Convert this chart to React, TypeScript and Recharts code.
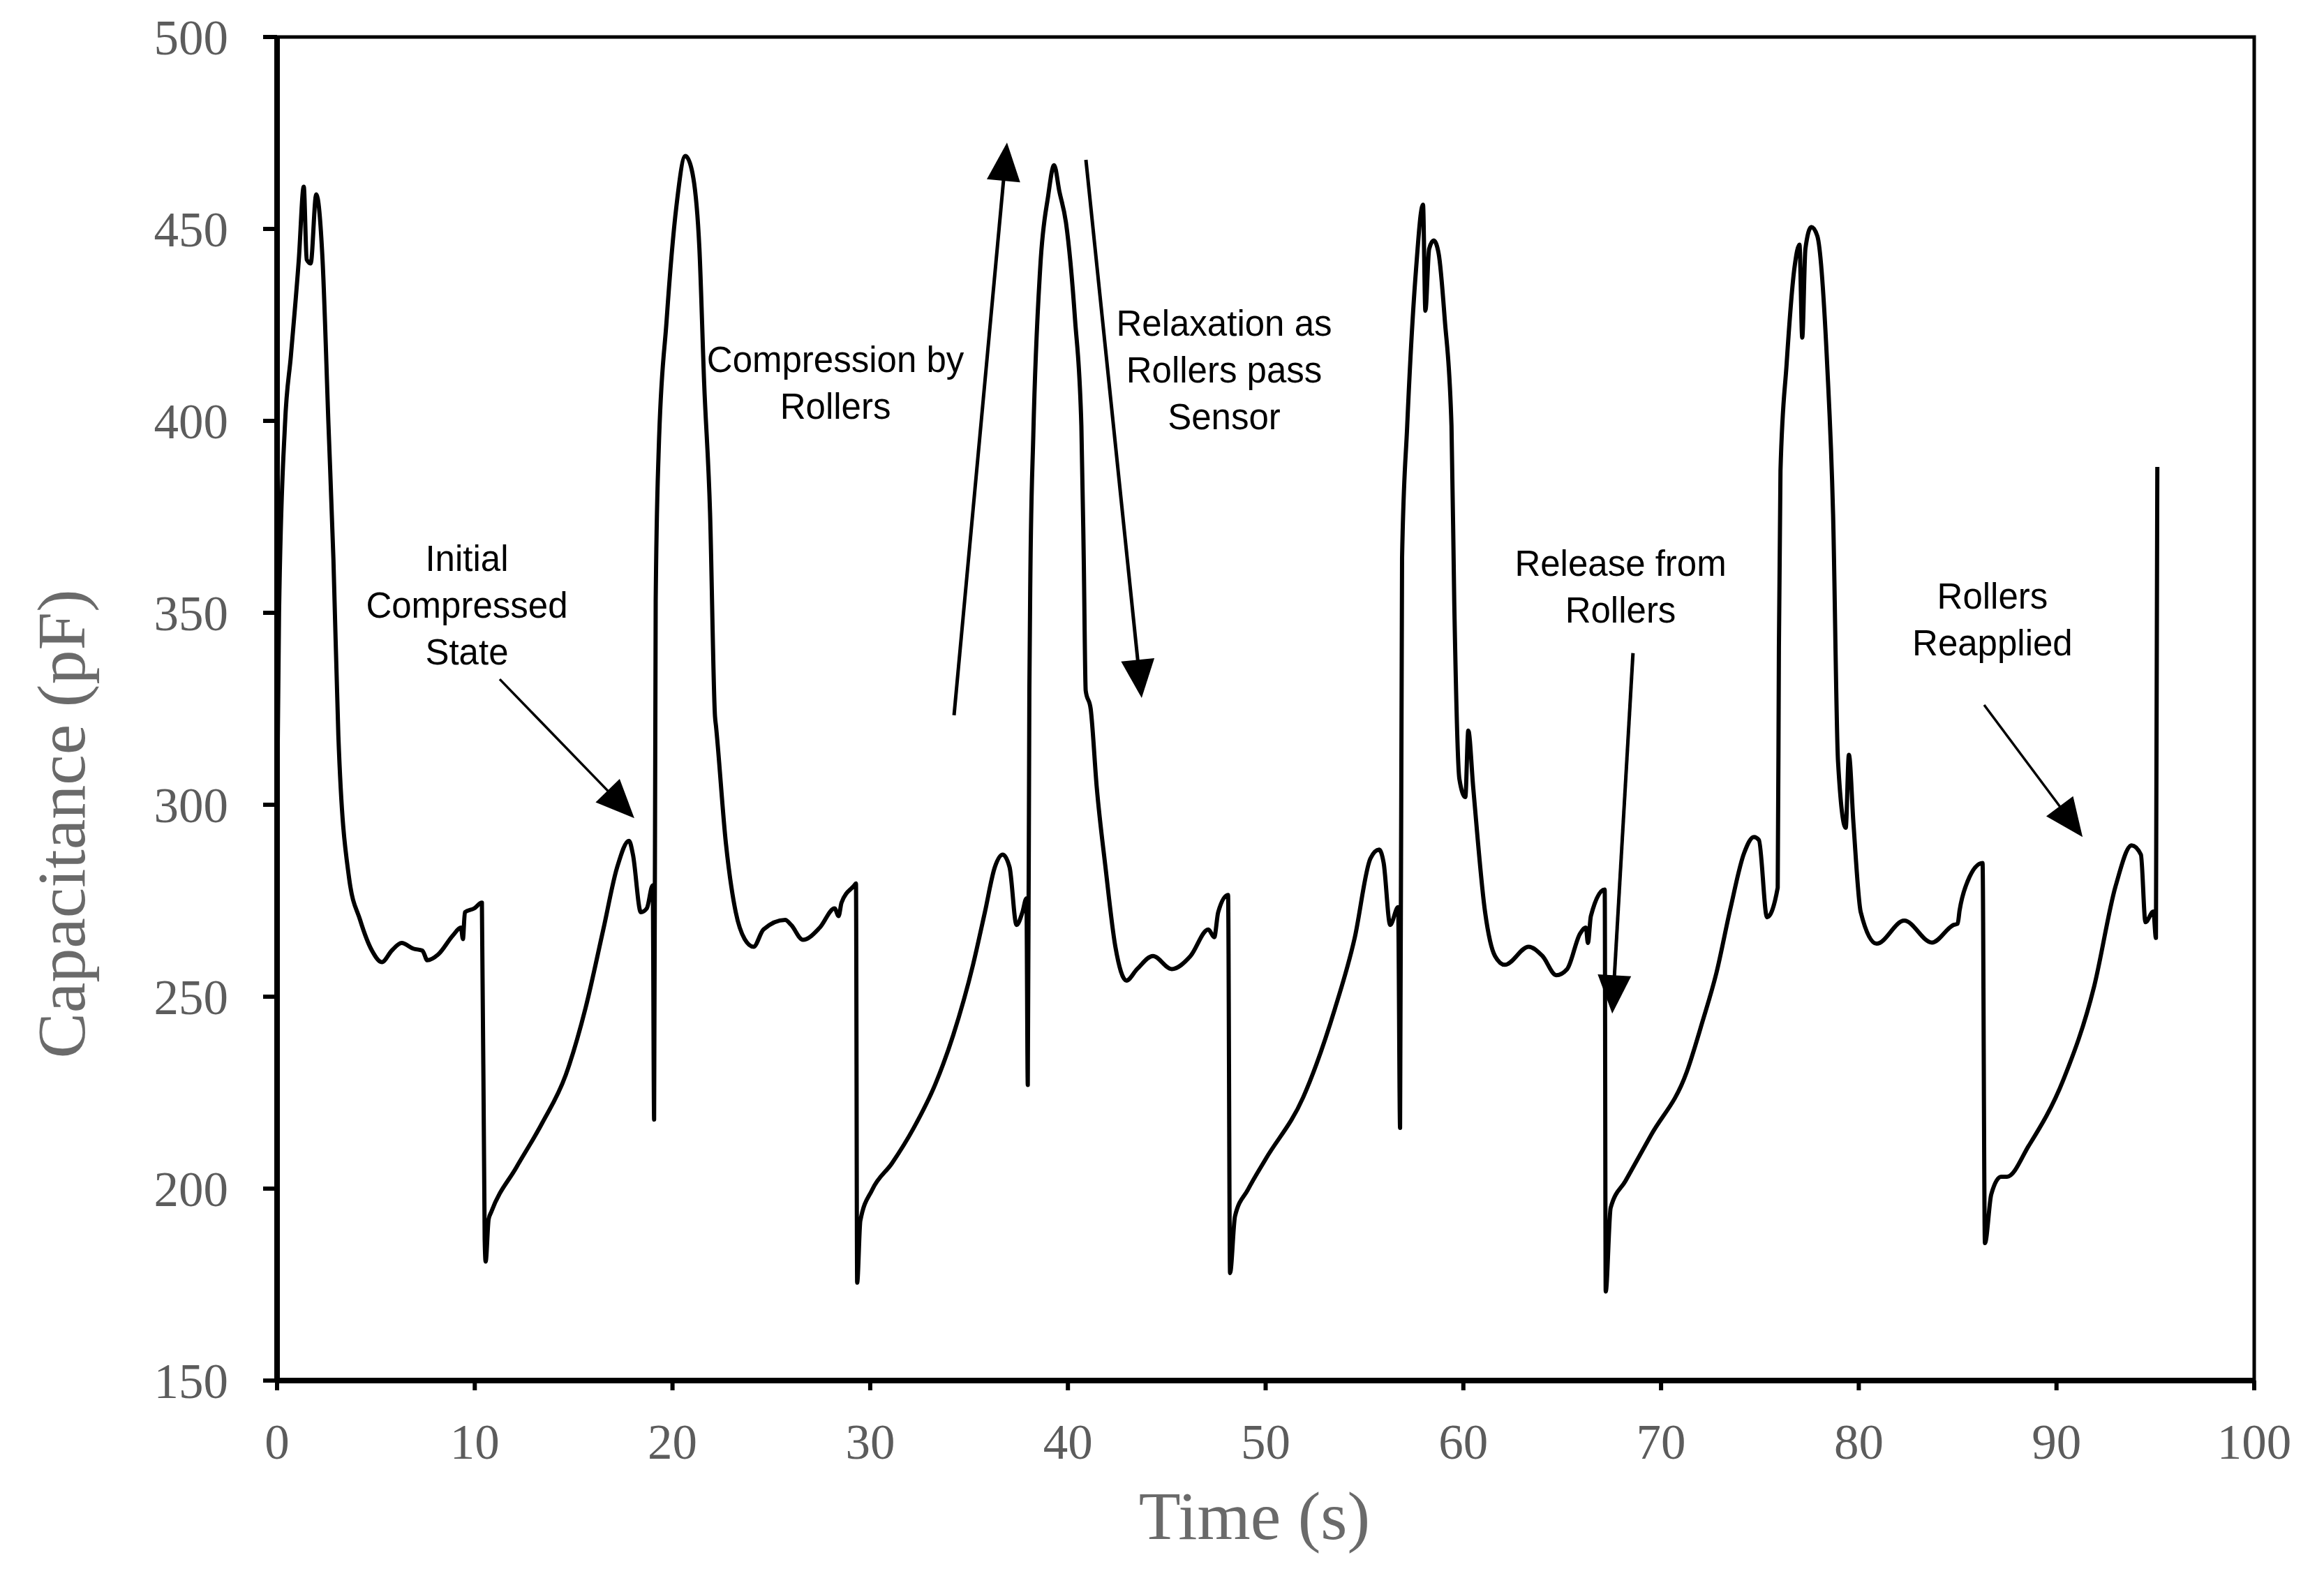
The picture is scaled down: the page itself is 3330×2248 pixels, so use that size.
import {
  LineChart,
  Line,
  XAxis,
  YAxis,
  Label,
  ReferenceArea,
  ReferenceLine,
  ReferenceDot,
} from "recharts";

// time (s) and capacitance (pF)
const time = [
  0, 0.1, 0.4, 0.7, 1.1, 1.35, 1.5, 1.7, 1.98, 2.3, 2.6, 2.85, 3.1, 3.64, 4.2,
  4.8, 5.3, 5.8, 6.3, 6.9, 7.35, 7.6, 8.15, 8.9, 9.3, 9.4, 9.5, 9.97, 10.36,
  10.5, 10.55, 10.7, 10.84, 12.1, 13.4, 14.6, 15.6, 16.5, 17.2, 17.8, 18.0,
  18.4, 18.7, 19.0, 19.07, 19.15, 19.3, 19.7, 20.2, 20.65, 20.97, 21.36, 21.6,
  21.9, 22.15, 22.2, 22.7, 23.2, 23.65, 24.1,
  24.6, 25.7, 26.0, 26.6, 27.45, 28.2, 28.4, 28.55, 29.2, 29.28, 29.34, 29.5,
  30.1, 31.1, 32.2, 33.3, 34.2, 35.2, 35.8, 36.3, 36.7, 37.05, 37.4, 37.7,
  37.9, 37.97, 38.05, 38.1, 38.25, 38.6, 39.0, 39.3, 39.57, 39.9, 40.36, 40.68,
  40.8, 40.9, 41.15, 41.46, 41.9, 42.4, 42.96, 43.5, 44.3, 45.25, 46.2, 47.1,
  47.4, 47.6, 48.1, 48.2,
  48.45, 49.1, 50.0, 51.9, 53.5, 54.5, 55.3, 55.74, 55.97, 56.3, 56.7, 56.8,
  56.9, 57.16, 57.6, 57.96, 58.08, 58.27, 58.5, 58.75, 59.06, 59.4, 59.54,
  59.8, 60.1, 60.25, 60.5, 61.1, 61.6, 62.1, 63.3, 64.0, 64.7, 65.25, 65.9,
  66.2, 66.3, 66.45, 67.15, 67.2, 67.45, 68.2, 69.5, 71.3, 72.1, 72.8,
  73.5, 74.2, 74.7, 74.95, 75.36, 75.9, 75.96, 76.04, 76.35, 76.75, 77.0,
  77.14, 77.3, 77.6, 77.9, 78.4, 78.7, 78.95, 79.34, 79.5, 79.73, 80.1, 80.9,
  82.3, 83.7, 84.8, 85.0, 85.1, 85.5, 86.26, 86.38, 86.7, 87.2, 87.5, 88.6,
  90.35, 91.9, 93.0, 93.8, 94.27, 94.5, 94.9, 95.03, 95.1,
];

const capacitance = [
  298, 350, 399, 417, 442, 461, 442, 441, 459, 442, 399, 364, 318, 281, 270,
  262, 259, 262, 264, 262.5, 262, 259.5, 261, 266, 268, 265, 272, 273, 274.5,
  187, 181, 192, 194, 205.5, 217, 229.6, 247, 267.5, 283.7, 290.6, 287, 272,
  273, 279, 218, 353, 392, 426, 456, 469, 465.5, 445, 410, 376, 323, 320.5,
  290, 272, 265, 263,
  267.5, 270, 268.7, 264.8, 268, 273, 271, 274.5, 279, 279.5, 175.5, 191.6,
  199.7, 206.6, 215.8, 227.3, 240, 258.3, 272, 283.7, 287, 283.7, 268.7, 272,
  275.6, 227, 330, 359.6, 396.4, 440, 458.6, 466.6, 459.7, 451.7, 426.4, 398.7,
  364.2, 329.7, 325, 304.4, 283.7, 263, 254.2, 257.2, 260.6, 257.2, 260.6,
  267.5, 265.5, 272, 276.5, 178,
  192.8, 199.7, 207.7, 223.8, 246.8, 265.2, 286, 288.3, 284.8, 268.7, 273.3,
  215.8, 364.2, 398.7, 439, 456.3, 428.7, 444.8, 447, 443.6, 426.4, 398.7,
  352.7, 306.7, 302, 319.3, 304.4, 272, 260.6, 258.3, 263, 260.6, 255.6, 257.2,
  266.4, 268, 264, 271, 277.9, 173.2, 195, 202, 214, 230.4, 243.6, 256.2,
  272.8, 287.4, 291.6, 290.8, 270.7, 278.4, 341, 387, 414.8, 440, 445.9,
  421.7, 444.8, 450.5, 448.2, 414.8, 375.7, 311.3, 294, 313, 295.2, 272, 263.8,
  269.8, 264.1, 268.7, 269, 272.5, 280, 284.8, 185.8, 198.5, 203.1, 203.1,
  211.2, 228.4, 252.6, 279, 289.4, 287, 269.4, 272.2, 265.3, 388,
];

const xTicks = [0, 10, 20, 30, 40, 50, 60, 70, 80, 90, 100];
const yTicks = [150, 200, 250, 300, 350, 400, 450, 500];

// annotation text: anchor (t, pF) of first baseline, then lines
const notes = [
  { t: 9.6, c: 361, lines: ["Initial", "Compressed", "State"] },
  { t: 28.24, c: 412.7, lines: ["Compression by", "Rollers"] },
  { t: 47.9, c: 422.2, lines: ["Relaxation as", "Rollers pass", "Sensor"] },
  { t: 67.95, c: 359.6, lines: ["Release from", "Rollers"] },
  { t: 86.76, c: 351.1, lines: ["Rollers", "Reapplied"] },
];

const arrows = [
  { t1: 11.26, c1: 332.7, t2: 18.07, c2: 296.5, w: 3.5 },
  { t1: 34.24, c1: 323.3, t2: 36.92, c2: 472.5, w: 5 },
  { t1: 40.91, c1: 468, t2: 43.73, c2: 327.8, w: 5 },
  { t1: 68.58, c1: 339.5, t2: 67.53, c2: 245.6, w: 5 },
  { t1: 86.34, c1: 326, t2: 91.32, c2: 291.6, w: 3.5 },
];

const chartData = time.map((t, i) => ({ t, c: capacitance[i] }));

const serif = "'Liberation Serif', 'Times New Roman', serif";
const sans = "'Liberation Sans', Arial, sans-serif";

function Arrow(props: any) {
  const { x1, y1, x2, y2, w } = props;
  const dx = x2 - x1;
  const dy = y2 - y1;
  const len = Math.sqrt(dx * dx + dy * dy);
  const ux = dx / len;
  const uy = dy / len;
  const head = 55;
  const half = 24;
  const bx = x2 - ux * head;
  const by = y2 - uy * head;
  const pts = [
    `${x2},${y2}`,
    `${bx - uy * half},${by + ux * half}`,
    `${bx + uy * half},${by - ux * half}`,
  ].join(" ");
  return (
    <g>
      <line x1={x1} y1={y1} x2={bx + ux * 4} y2={by + uy * 4} stroke="#000" strokeWidth={w} />
      <polygon points={pts} fill="#000" />
    </g>
  );
}

function Note(props: any) {
  const { cx, cy, lines } = props;
  return (
    <text x={cx} y={cy} textAnchor="middle" fontFamily={sans} fontSize={51} fill="#000">
      {lines.map((l: string, i: number) => (
        <tspan key={i} x={cx} dy={i === 0 ? 0 : 67}>
          {l}
        </tspan>
      ))}
    </text>
  );
}

function XTitle(props: any) {
  const vb = props.viewBox;
  return (
    <text
      x={vb.x + vb.width / 2 - 16}
      y={vb.y + 227}
      textAnchor="middle"
      fontFamily={serif}
      fontSize={98}
      fill="#6a6a6a"
    >
      Time (s)
    </text>
  );
}

function YTitle(props: any) {
  const vb = props.viewBox;
  const x = vb.x - 229;
  const y = vb.y + vb.height / 2 + 165;
  return (
    <text
      x={x}
      y={y}
      transform={`rotate(-90 ${x} ${y})`}
      textAnchor="middle"
      dominantBaseline="central"
      fontFamily={serif}
      fontSize={98}
      fill="#6a6a6a"
    >
      Capacitance (pF)
    </text>
  );
}

export default function App() {
  return (
    <div style={{ position: "absolute", left: 0, top: 0, width: 3330, height: 2248, background: "#fff" }}>
      <LineChart
        width={3330}
        height={2248}
        data={chartData}
        margin={{ top: 53, right: 100, bottom: 210, left: 317 }}
      >
        <ReferenceArea
          x1={0}
          x2={100}
          y1={150}
          y2={500}
          fill="none"
          stroke="#000"
          strokeWidth={5}
          fillOpacity={0}
        />

        <XAxis
          type="number"
          dataKey="t"
          domain={[0, 100]}
          ticks={xTicks}
          interval={0}
          height={60}
          tickSize={14}
          tickMargin={48}
          axisLine={{ stroke: "#000", strokeWidth: 8 }}
          tickLine={{ stroke: "#000", strokeWidth: 6 }}
          tick={{ fontSize: 71, fill: "#5c5c5c", fontFamily: serif }}
        >
          <Label content={<XTitle />} />
        </XAxis>

        <YAxis
          type="number"
          domain={[150, 500]}
          ticks={yTicks}
          interval={0}
          width={80}
          tickSize={20}
          tickMargin={50}
          axisLine={{ stroke: "#000", strokeWidth: 8 }}
          tickLine={{ stroke: "#000", strokeWidth: 6 }}
          tick={{ fontSize: 71, fill: "#5c5c5c", fontFamily: serif }}
        >
          <Label content={<YTitle />} />
        </YAxis>

        <Line
          type="monotoneX"
          dataKey="c"
          stroke="#000"
          strokeWidth={6}
          strokeLinejoin="round"
          dot={false}
          activeDot={false}
          isAnimationActive={false}
        />

        {arrows.map((a, i) => (
          <ReferenceLine
            key={"a" + i}
            segment={[
              { x: a.t1, y: a.c1 },
              { x: a.t2, y: a.c2 },
            ]}
            shape={(p: any) => <Arrow {...p} w={a.w} />}
          />
        ))}

        {notes.map((n, i) => (
          <ReferenceDot
            key={"n" + i}
            x={n.t}
            y={n.c}
            r={0}
            shape={(p: any) => <Note {...p} lines={n.lines} />}
          />
        ))}
      </LineChart>
    </div>
  );
}
